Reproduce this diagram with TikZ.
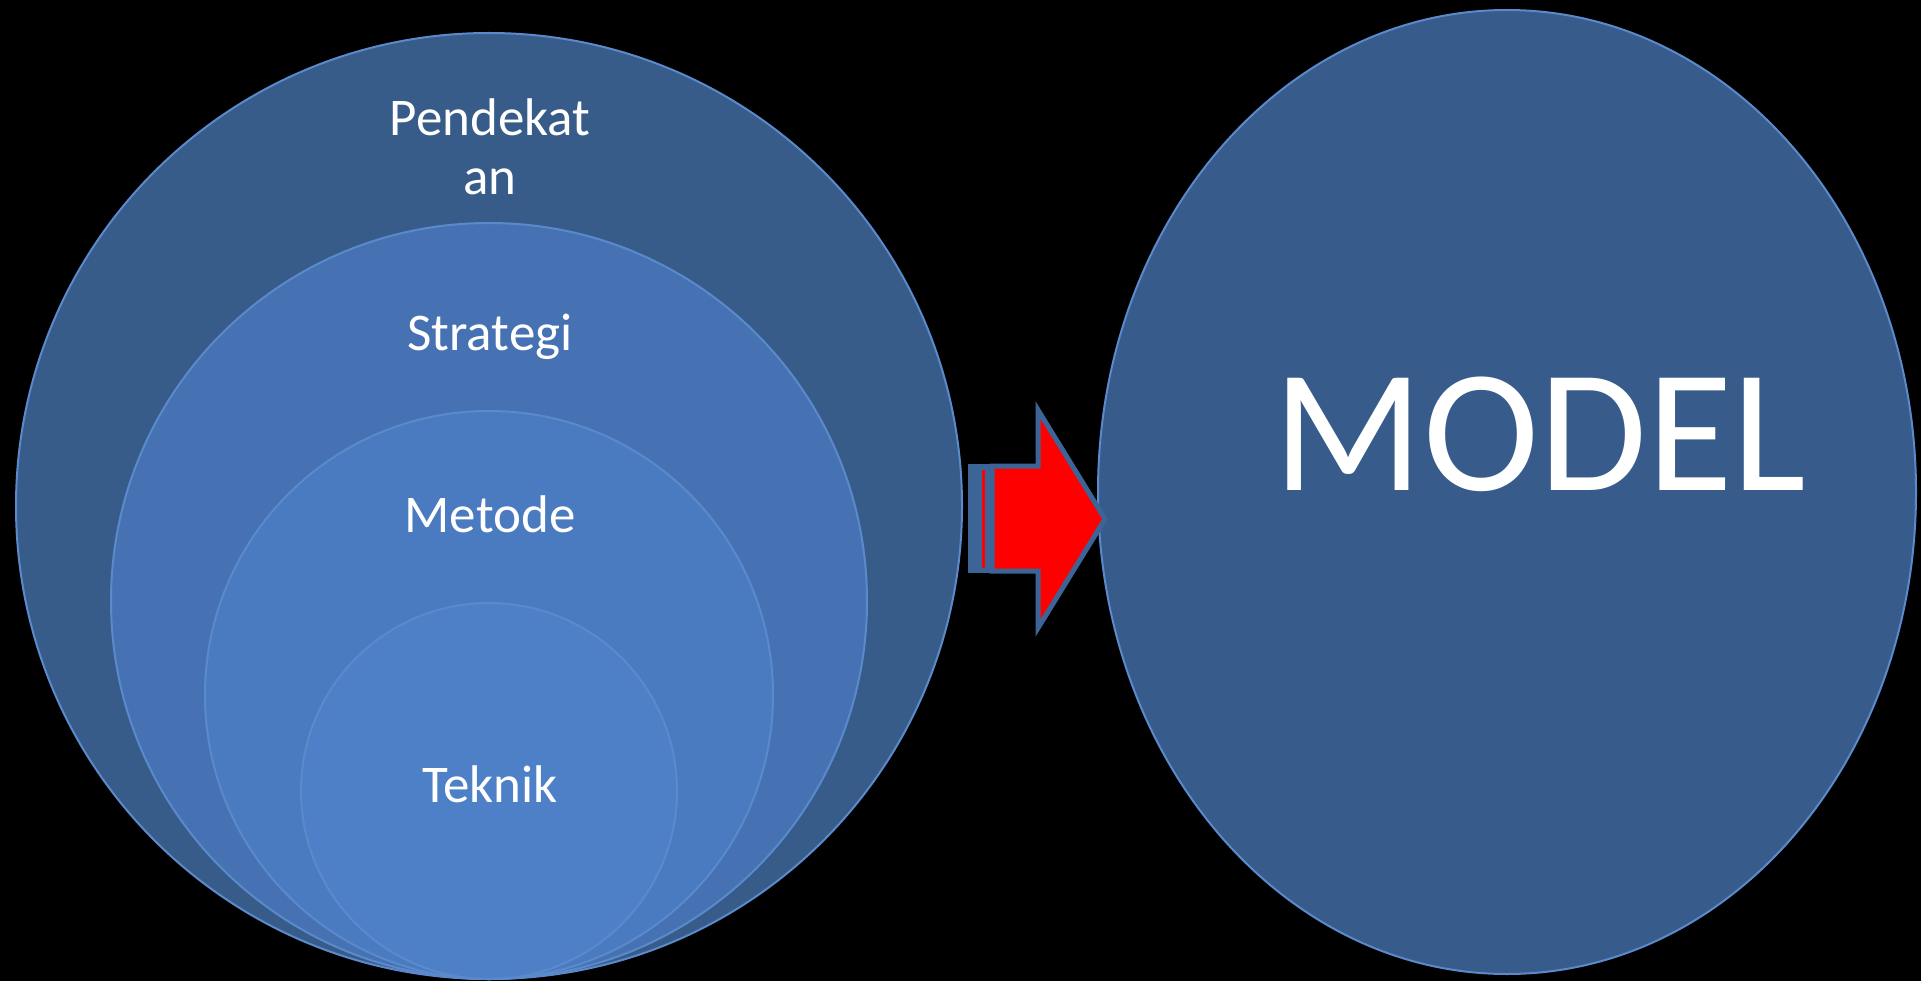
\documentclass[tikz,border=0pt]{standalone}
\usepackage{fontspec}
\setmainfont{Carlito}
\usetikzlibrary{shapes.geometric}
\definecolor{outerblue}{HTML}{375C8A}
\definecolor{stratblue}{HTML}{4672B4}
\definecolor{metblue}{HTML}{4A7BC0}
\definecolor{tekblue}{HTML}{4D80C6}
\definecolor{modelblue}{HTML}{375B8A}
\definecolor{rimblue}{HTML}{5A8ACB}
\definecolor{edgeblue}{HTML}{3D6496}
\tikzset{
  ring/.style={circle, inner sep=0pt, draw=rimblue, line width=2pt},
  lbl/.style={text=white, font=\fontsize{53}{59}\selectfont, inner sep=0pt}
}
\begin{document}
\begin{tikzpicture}[x=1pt,y=-1pt]
		\fill[black] (0,0) rectangle (1921,981);
		\useasboundingbox (0,0) rectangle (1921,981);
		
		\node[ring, fill=outerblue, minimum size=946pt] (P) at (489,506) {};
		\node[ring, fill=stratblue, minimum size=756pt] (S) at (489,601) {};
		\node[ring, fill=metblue, minimum size=568pt] (M) at (489,695) {};
		\node[ring, fill=tekblue, minimum size=376pt] (T) at (489,791) {};
		\node[ellipse, inner sep=0pt, draw=rimblue, line width=2pt, fill=modelblue, minimum width=818pt, minimum height=964pt] (Mod) at (1507,492) {};
		
		\node[lbl, anchor=base, align=center] (tP) at (490,195) {Pendekat\\an};
		\node[lbl, anchor=base] (tS) at (490,350) {Strategi};
		\node[lbl, anchor=base] (tM) at (490,532) {Metode};
		\node[lbl, anchor=base] (tT) at (490,802) {Teknik};
		\node[text=white, font=\fontsize{175}{200}\selectfont, inner sep=0pt, anchor=base] (tMod) at (1540,490) {MODEL};
		
		% striped arrow
		\coordinate (a1) at (992,466);
		\coordinate (a2) at (1038,466);
		\coordinate (a3) at (1038,410);
		\coordinate (tip) at (1105,519);
		\coordinate (a5) at (1038,628);
		\coordinate (a6) at (1038,571);
		\coordinate (a7) at (992,571);
		\fill[edgeblue] (968,464) rectangle (995,573);
		\draw[red, line width=3pt] (983.5,470) -- (983.5,568);
		\draw[edgeblue, fill=red, line width=5pt, line join=miter] (a1) -- (a2) -- (a3) -- (tip) -- (a5) -- (a6) -- (a7) -- cycle;
		\end{tikzpicture}
\end{document}
